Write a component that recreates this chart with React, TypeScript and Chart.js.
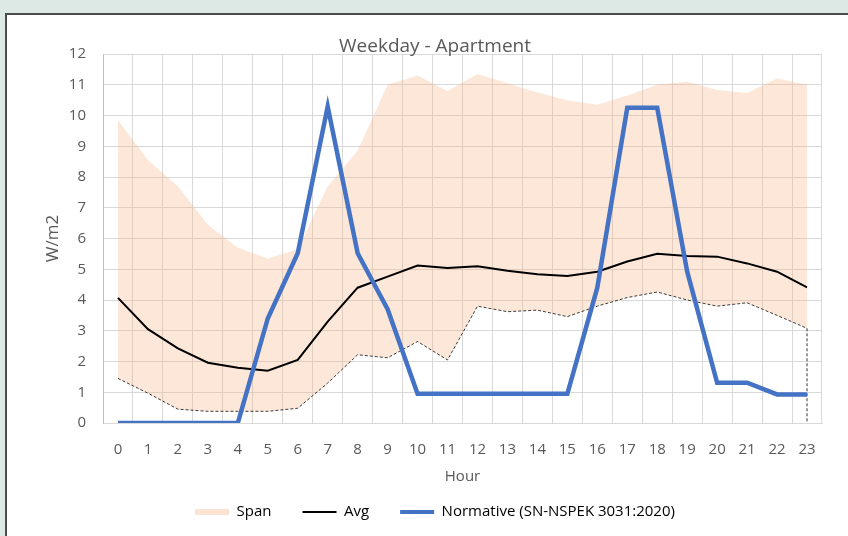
import React, { useEffect, useRef } from 'react';
import { Chart, registerables } from 'chart.js';

Chart.register(...registerables);

const hours = ['0','1','2','3','4','5','6','7','8','9','10','11','12','13','14','15','16','17','18','19','20','21','22','23'];
const spanMax = [9.85, 8.55, 7.7, 6.45, 5.7, 5.35, 5.65, 7.7, 8.85, 11.0, 11.3, 10.8, 11.35, 11.05, 10.75, 10.5, 10.35, 10.65, 11.0, 11.1, 10.83, 10.73, 11.2, 11.0];
const spanMin = [1.45, 0.97, 0.45, 0.38, 0.38, 0.38, 0.48, 1.3, 2.22, 2.12, 2.65, 2.05, 3.8, 3.62, 3.67, 3.46, 3.8, 4.08, 4.26, 4.0, 3.8, 3.91, 3.5, 3.08];
const avg = [4.07, 3.05, 2.43, 1.96, 1.8, 1.7, 2.05, 3.3, 4.4, 4.76, 5.12, 5.04, 5.1, 4.95, 4.84, 4.78, 4.92, 5.25, 5.5, 5.43, 5.41, 5.19, 4.92, 4.41];
const normative = [0, 0, 0, 0, 0, 3.4, 5.52, 10.29, 5.52, 3.7, 0.95, 0.95, 0.95, 0.95, 0.95, 0.95, 4.4, 10.25, 10.25, 4.92, 1.31, 1.31, 0.93, 0.93];
const yTicks = [0, 1, 2, 3, 4, 5, 6, 7, 8, 9, 10, 11, 12];

const titleText = 'Weekday - Apartment';
const xTitle = 'Hour';
const yTitle = 'W/m2';
const spanLabel = 'Span';
const avgLabel = 'Avg';
const normLabel = 'Normative (SN-NSPEK 3031:2020)';

const FONT = "'Open Sans', sans-serif";
const TEXT = '#595959';
const GRID = '#d9d9d9';
const SPAN_FILL = 'rgba(246,176,130,0.3)';
const BLUE = '#4472c4';

export default function App() {
  const ref = useRef<HTMLCanvasElement>(null);

  useEffect(() => {
    if (!ref.current) return;
    const lastIdx = hours.length - 1;
    const chart = new Chart(ref.current, {
      type: 'line',
      data: {
        labels: hours,
        datasets: [
          {
            label: avgLabel,
            data: avg,
            borderColor: '#000000',
            borderWidth: 2,
            pointRadius: 0,
            fill: false,
            tension: 0,
            order: 1,
          },
          {
            label: normLabel,
            data: normative,
            borderColor: BLUE,
            borderWidth: 4.5,
            pointRadius: 0,
            fill: false,
            order: 0,
          },
          {
            label: 'min',
            data: spanMin,
            borderColor: 'rgba(40,40,40,0.9)',
            borderWidth: 1,
            borderDash: [3, 2],
            pointRadius: 0,
            fill: false,
            order: 2,
          },
          {
            label: spanLabel,
            data: spanMax,
            borderColor: 'rgba(0,0,0,0)',
            borderWidth: 0,
            backgroundColor: SPAN_FILL,
            pointRadius: 0,
            fill: 2,
            order: 3,
          },
          {
            label: 'drop',
            data: [
              { x: hours[lastIdx], y: spanMin[lastIdx] },
              { x: hours[lastIdx], y: 0 },
            ] as any,
            borderColor: 'rgba(30,30,30,0.9)',
            borderWidth: 1,
            borderDash: [3, 2],
            pointRadius: 0,
            fill: false,
            order: 2,
          },
        ],
      },
      options: {
        animation: false,
        responsive: false,
        maintainAspectRatio: false,
        events: [],
        layout: { padding: { left: 48, right: 26, top: 0, bottom: 6.5 } },
        plugins: {
          title: {
            display: true,
            text: titleText,
            color: TEXT,
            font: { family: FONT, size: 19, weight: 'normal' },
            padding: { top: 35.6, bottom: -4.4 },
          },
          legend: {
            display: true,
            position: 'bottom',
            labels: {
              color: TEXT,
              font: { family: FONT, size: 15 },
              usePointStyle: true,
              pointStyleWidth: 34,
              boxHeight: 6,
              padding: 31,
              generateLabels: () => [
                { text: spanLabel, fillStyle: 'rgba(246,176,130,0.35)', strokeStyle: 'rgba(0,0,0,0)', lineWidth: 0, pointStyle: 'rect', datasetIndex: 3, hidden: false } as any,
                { text: avgLabel, fillStyle: '#000', strokeStyle: '#000', lineWidth: 2, pointStyle: 'line', datasetIndex: 0, hidden: false } as any,
                { text: normLabel, fillStyle: BLUE, strokeStyle: BLUE, lineWidth: 4, pointStyle: 'line', datasetIndex: 1, hidden: false } as any,
              ],
            },
          },
          tooltip: { enabled: false },
        },
        scales: {
          x: {
            type: 'category',
            offset: true,
            grid: { offset: true, color: GRID, drawTicks: false },
            border: { color: GRID },
            ticks: { color: TEXT, font: { family: FONT, size: 15 }, padding: 17.5, maxRotation: 0, autoSkip: false },
            title: { display: true, text: xTitle, color: TEXT, font: { family: FONT, size: 15 }, padding: { top: 0, bottom: -12.5 } },
            afterFit: (s: any) => { s.height = 50.5; },
          },
          y: {
            min: yTicks[0],
            max: yTicks[yTicks.length - 1],
            afterBuildTicks: (s: any) => { s.ticks = yTicks.map((v) => ({ value: v })); },
            grid: { color: GRID, drawTicks: false },
            border: { color: '#bfbfbf' },
            ticks: { color: TEXT, font: { family: FONT, size: 15 }, padding: 17 },
            title: { display: true, text: yTitle, color: TEXT, font: { family: FONT, size: 17 }, padding: { top: -5.2, bottom: 0 } },
            afterFit: (s: any) => { s.width = 55; },
          },
        },
      },
    });
    return () => chart.destroy();
  }, []);

  return (
    <div style={{ position: 'fixed', left: 0, top: 0, width: 848, height: 536, overflow: 'hidden', background: '#dce9e5' }}>
      <div style={{ position: 'absolute', left: 5, top: 13, width: 900, height: 600, background: '#ffffff', borderTop: '2px solid #4d4d4d', borderLeft: '2px solid #4d4d4d' }} />
      <canvas ref={ref} width={848} height={536} style={{ position: 'absolute', left: 0, top: 0, width: 848, height: 536 }} />
    </div>
  );
}
